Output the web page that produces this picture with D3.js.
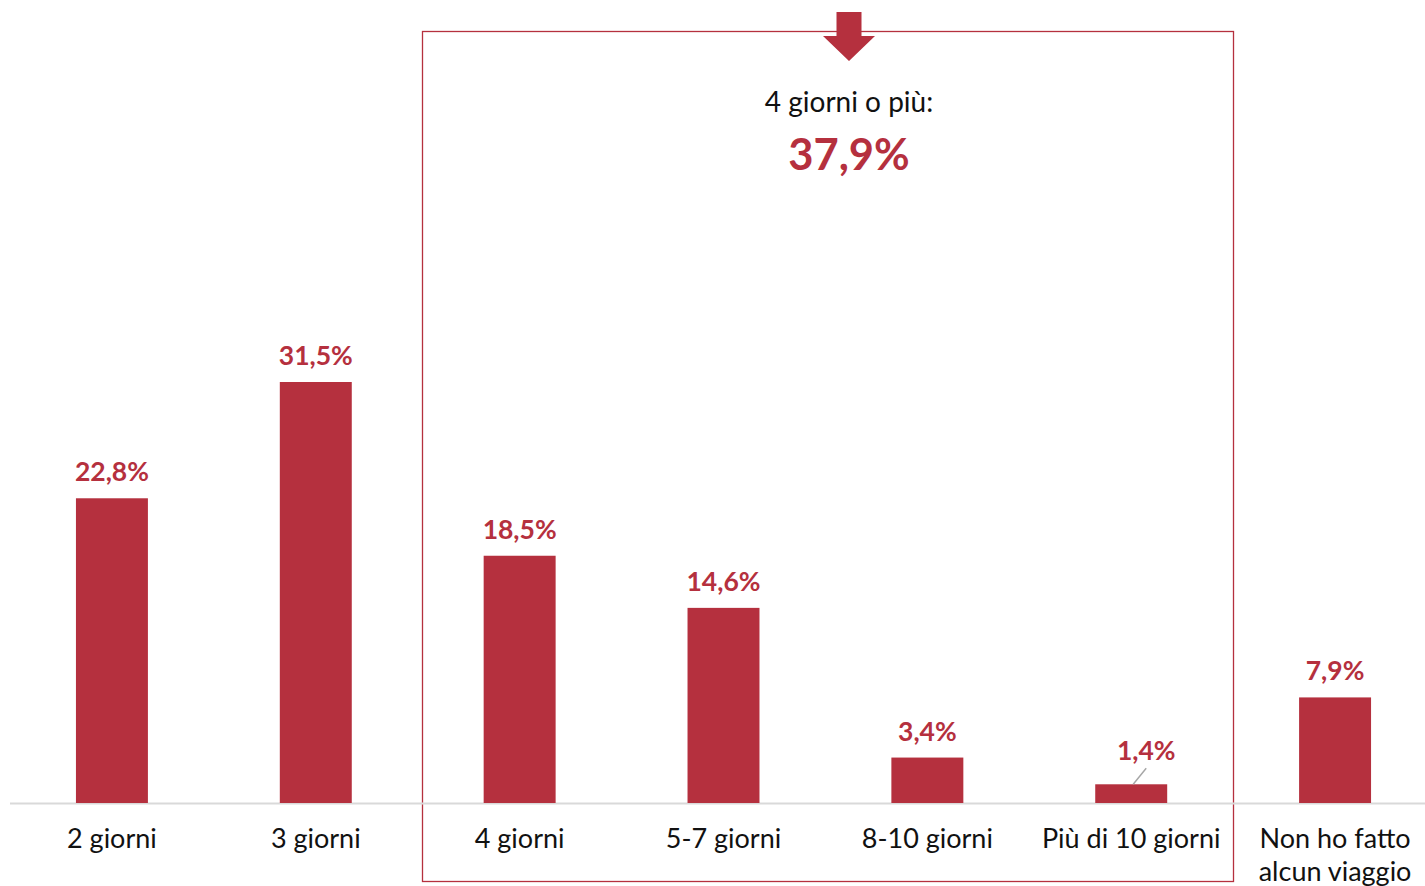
<!DOCTYPE html>
<html><head><meta charset="utf-8">
<script src="https://cdn.jsdelivr.net/npm/d3@7/dist/d3.min.js"></script>
<style>body{margin:0;background:#fff;}svg{display:block;}</style>
</head><body>
<svg id="c" width="1425" height="886"></svg>
<script>
const categories = ["2 giorni","3 giorni","4 giorni","5-7 giorni","8-10 giorni","Più di 10 giorni","Non ho fatto|alcun viaggio"];
const values = [22.8, 31.5, 18.5, 14.6, 3.4, 1.4, 7.9];
const valueLabels = ["22,8%","31,5%","18,5%","14,6%","3,4%","1,4%","7,9%"];
const groupCategories = ["4 giorni","Più di 10 giorni"];
const groupTitle = "4 giorni o più:";
const groupValue = "37,9%";

const red = "#b5303e";
const font = "Lato, 'Open Sans', sans-serif";
const svg = d3.select("#c");
const baseY = 803;
const x = d3.scaleBand().domain(categories).range([10, 1437]).paddingInner(0.647).paddingOuter(0.3235);
const y = d3.scaleLinear().domain([0, 31.5]).range([baseY, 382]);

// group box
svg.append("rect").attr("x", 422.5).attr("y", 31.5).attr("width", 1233-422).attr("height", 881-31)
  .attr("fill","none").attr("stroke", red).attr("stroke-width",1.3);

// arrow + group texts
const ax = 849;
svg.append("path").attr("d", `M${ax-12.5},12 L${ax+12.5},12 L${ax+12.5},36 L${ax+26},36 L${ax},61 L${ax-26},36 L${ax-12.5},36 Z`).attr("fill", red);

svg.append("text").attr("x", ax).attr("y", 112).attr("text-anchor","middle")
  .attr("font-family", font).attr("font-size", 28).attr("fill","#111").text(groupTitle);
svg.append("text").attr("x", ax).attr("y", 170).attr("text-anchor","middle")
  .attr("font-family", font).attr("font-weight","bold").attr("font-size", 43.5).attr("fill", red).text(groupValue);

// baseline
svg.append("line").attr("x1",10).attr("x2",1425).attr("y1",baseY+0.5).attr("y2",baseY+0.5).attr("stroke","#d9d9d9").attr("stroke-width",2);

// bars
svg.selectAll("rect.bar").data(values).join("rect").attr("class","bar")
  .attr("x",(d,i)=>x(categories[i])).attr("width", x.bandwidth())
  .attr("y", d=>y(d)).attr("height", d=>baseY - y(d)).attr("fill", red);

// value labels
values.forEach((d,i)=>{
  const cx = x(categories[i]) + x.bandwidth()/2;
  let ly = y(d) - 17, lx = cx;
  if (d < 2) {
    lx = cx + 15; ly = y(d) - 24;
    svg.append("line").attr("x1", cx+2).attr("y1", y(d)).attr("x2", cx+15).attr("y2", y(d)-16)
      .attr("stroke","#a6a6a6").attr("stroke-width",1.5);
  }
  svg.append("text").attr("x", lx).attr("y", ly).attr("text-anchor","middle")
    .attr("font-family", font).attr("font-weight","bold").attr("font-size", 26.5).attr("fill", red).text(valueLabels[i]);
});

// category labels
categories.forEach((c,i)=>{
  const cx = x(c) + x.bandwidth()/2;
  const lines = c.split("|");
  lines.forEach((t,j)=>{
    svg.append("text").attr("x", cx).attr("y", 848 + j*33).attr("text-anchor","middle")
      .attr("font-family", font).attr("font-size", 27).attr("fill","#111").text(t);
  });
});
</script>
</body></html>
